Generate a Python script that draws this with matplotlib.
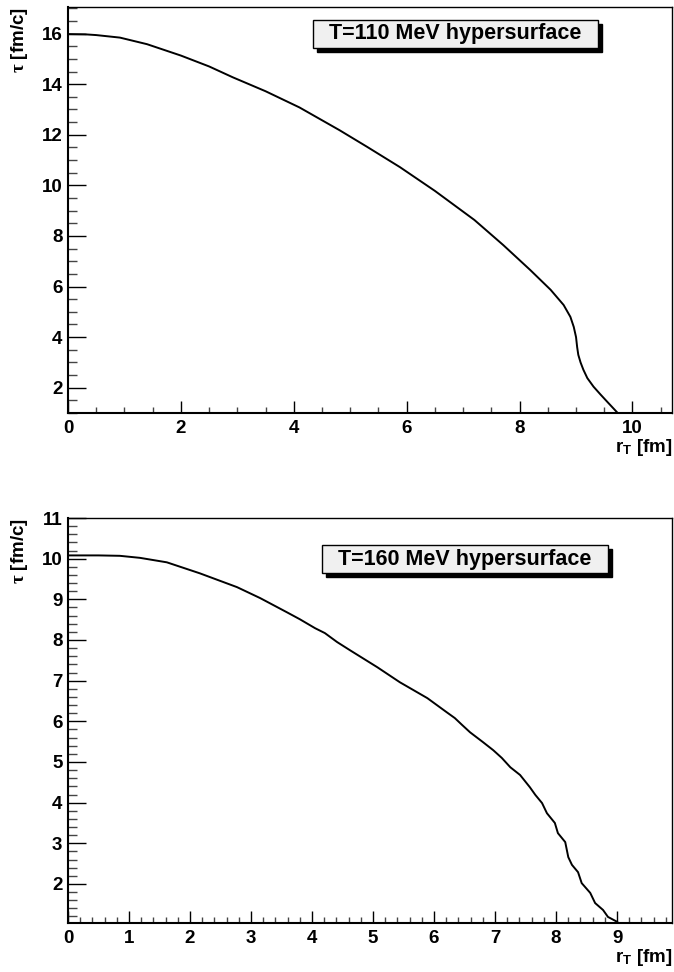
import matplotlib
matplotlib.use("Agg")
import matplotlib.pyplot as plt
from matplotlib.patches import Rectangle
from matplotlib.ticker import MultipleLocator

plt.rcParams['font.family'] = ['Liberation Sans', 'DejaVu Sans']
plt.rcParams['font.weight'] = 'bold'
plt.rcParams['mathtext.fontset'] = 'custom'
plt.rcParams['mathtext.rm'] = 'Liberation Sans:bold'
plt.rcParams['mathtext.bf'] = 'Liberation Sans:bold'
plt.rcParams['mathtext.it'] = 'Liberation Serif'

# T = 110 MeV freeze-out curve
r110 = [0.0, 0.3, 0.5, 0.92, 1.4, 2.0, 2.5, 2.92, 3.5, 4.1, 4.81, 5.3, 5.88, 6.5, 7.2,
        7.71, 8.19, 8.55, 8.78, 8.90, 8.96, 9.0, 9.02, 9.04, 9.08, 9.13, 9.2, 9.31,
        9.43, 9.55, 9.73]
tau110 = [15.98, 15.97, 15.94, 15.84, 15.58, 15.13, 14.7, 14.27, 13.72, 13.08, 12.18,
          11.52, 10.72, 9.78, 8.63, 7.64, 6.65, 5.87, 5.27, 4.8, 4.4, 4.0, 3.6, 3.3,
          3.0, 2.71, 2.38, 2.04, 1.74, 1.45, 1.02]

# T = 160 MeV curve
r160 = [0.0, 0.5, 0.85, 1.18, 1.62, 2.16, 2.77, 3.15, 3.59, 3.8, 4.05, 4.21, 4.41, 4.62,
        5.07, 5.44, 5.89, 6.21, 6.34, 6.46, 6.59, 6.80, 6.97, 7.11, 7.25, 7.41,
        7.57, 7.66, 7.77, 7.85, 7.98, 8.03, 8.15, 8.20, 8.26, 8.36, 8.42, 8.56,
        8.64, 8.77, 8.85, 9.0]
tau160 = [10.08, 10.08, 10.07, 10.02, 9.91, 9.64, 9.30, 9.03, 8.68, 8.51, 8.29, 8.17, 7.95,
          7.75, 7.33, 6.96, 6.57, 6.22, 6.08, 5.91, 5.73, 5.49, 5.29, 5.10, 4.87,
          4.68, 4.38, 4.19, 3.99, 3.74, 3.50, 3.25, 3.03, 2.66, 2.47, 2.29, 2.02,
          1.78, 1.53, 1.36, 1.19, 1.07]

panels = [
    dict(r=r110, tau=tau110, label="T=110 MeV hypersurface", xlim=(0, 10.7), ylim=(1.0, 17.05),
         xmaj=2, xmin=0.5, ymaj=2, ymin=0.5),
    dict(r=r160, tau=tau160, label="T=160 MeV hypersurface", xlim=(0, 9.9), ylim=(1.04, 11.0),
         xmaj=1, xmin=0.2, ymaj=1, ymin=0.2),
]

fig = plt.figure(figsize=(6.74, 9.72), dpi=100)
ax1 = fig.add_axes([68/674, 1-413/972, 604/674, 406/972])
ax2 = fig.add_axes([68/674, 1-923/972, 604/674, 405/972])
boxes = [(0.4056, 0.899, 0.472, 0.069), (0.4205, 0.864, 0.4735, 0.069)]
ylab_top = [7, 518]
xlab_off = [-17, -17]

for ax, p, box, yt, xo in zip([ax1, ax2], panels, boxes, ylab_top, xlab_off):
    ax.plot(p['r'], p['tau'], color='black', lw=1.4)
    ax.set_xlim(*p['xlim'])
    ax.set_ylim(*p['ylim'])
    ax.xaxis.set_major_locator(MultipleLocator(p['xmaj']))
    ax.xaxis.set_minor_locator(MultipleLocator(p['xmin']))
    ax.yaxis.set_major_locator(MultipleLocator(p['ymaj']))
    ax.yaxis.set_minor_locator(MultipleLocator(p['ymin']))
    ax.tick_params(axis='y', which='major', direction='in', length=13, width=1, labelsize=13.5, pad=4)
    ax.tick_params(axis='y', which='minor', direction='in', length=6.5, width=1, color='#444444')
    ax.tick_params(axis='x', which='major', direction='in', length=8.6, width=1, labelsize=13.5, pad=5)
    ax.tick_params(axis='x', which='minor', direction='in', length=4.3, width=1, color='#444444')
    for lbl in ax.get_xticklabels() + ax.get_yticklabels():
        lbl.set_fontweight('bold')
    for s in ['left', 'bottom']:
        ax.spines[s].set_linewidth(1.5)
    for s in ['top', 'right']:
        ax.spines[s].set_linewidth(1.0)

    # title box with shadow
    x0, y0, w, h = box
    dx, dy = 4/604, 4/406
    ax.add_patch(Rectangle((x0+dx, y0-dy), w, h, transform=ax.transAxes,
                           facecolor='black', edgecolor='black', zorder=4, clip_on=False))
    ax.add_patch(Rectangle((x0, y0), w, h, transform=ax.transAxes,
                           facecolor='#f0f0f0', edgecolor='black', lw=1, zorder=5, clip_on=False))
    ax.text(x0 + w/2, y0 + h/2, p['label'], transform=ax.transAxes, ha='center', va='center',
            fontsize=15.5, fontweight='bold', zorder=6)

    ax.annotate(r"r$_{\mathrm{T}}$ [fm]", xy=(1.0, 0.0), xycoords='axes fraction',
                xytext=(0, xo), textcoords='offset points', ha='right', va='top',
                fontsize=13.5, fontweight='bold')
    fig.text(20/674, 1-yt/972, r"$\tau$ [fm/c]", rotation=90, ha='center', va='top',
             fontsize=13.5, fontweight='bold')

fig.savefig("out.png", dpi=100)
